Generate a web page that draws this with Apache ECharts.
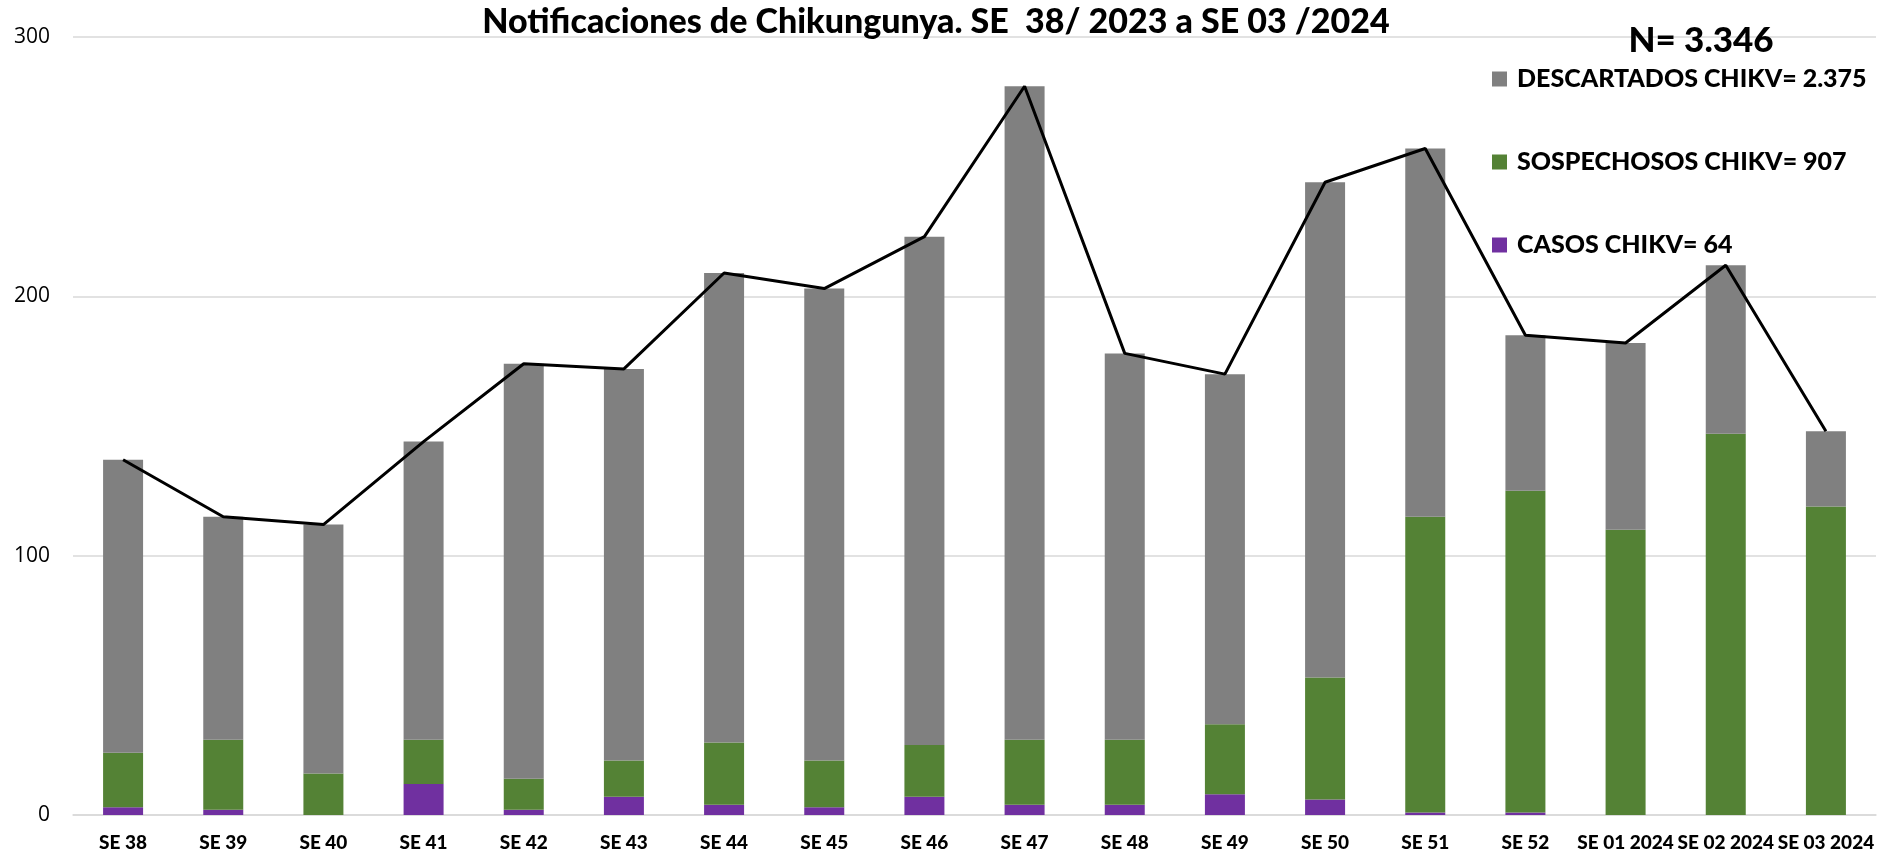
<!DOCTYPE html>
<html>
<head>
<meta charset="utf-8">
<script src="https://cdn.jsdelivr.net/npm/echarts@6/dist/echarts.min.js"></script>
<style>
html,body{margin:0;padding:0;background:#fff;}
#c{width:1900px;height:853px;}
</style>
</head>
<body>
<div id="c"></div>
<script>
const categories = ["SE 38","SE 39","SE 40","SE 41","SE 42","SE 43","SE 44","SE 45","SE 46","SE 47","SE 48","SE 49","SE 50","SE 51","SE 52","SE 01 2024","SE 02 2024","SE 03 2024"];
const casos        = [3, 2, 0, 12, 2, 7, 4, 3, 7, 4, 4, 8, 6, 1, 1, 0, 0, 0];
const sospechosos  = [21, 27, 16, 17, 12, 14, 24, 18, 20, 25, 25, 27, 47, 114, 124, 110, 147, 119];
const descartados  = [113, 86, 96, 115, 160, 151, 181, 182, 196, 252, 149, 135, 191, 142, 60, 72, 65, 29];
const totales      = [137, 115, 112, 144, 174, 172, 209, 203, 223, 281, 178, 170, 244, 257, 185, 182, 212, 148];
const yTicks = [0, 100, 200, 300];

const chart = echarts.init(document.getElementById('c'), null, {renderer: 'canvas'});
const boldFont = 'Lato';
chart.setOption({
  animation: false,
  backgroundColor: '#fff',
  grid: {left: 73, right: 24, top: 37, bottom: 38, containLabel: false},
  graphic: [
    {type: 'text', x: 936, y: 22, z: 10, style: {text: 'Notificaciones de Chikungunya. SE  38/ 2023 a SE 03 /2024', fontFamily: 'Lato', fontWeight: 900, fontSize: 34, fill: '#000', textAlign: 'center', textVerticalAlign: 'middle'}},
    {type: 'text', x: 1701, y: 41, z: 10, style: {text: 'N= 3.346', fontFamily: 'Lato', fontWeight: 900, fontSize: 35, fill: '#000', textAlign: 'center', textVerticalAlign: 'middle'}}
  ],
  legend: {
    orient: 'vertical',
    left: 1492,
    top: 64,
    padding: 0,
    icon: 'rect',
    itemWidth: 15,
    itemHeight: 15,
    itemGap: 53,
    data: ['DESCARTADOS CHIKV= 2.375', 'SOSPECHOSOS CHIKV= 907', 'CASOS CHIKV= 64'],
    textStyle: {fontFamily: boldFont, fontWeight: 900, fontSize: 25, color: '#000', lineHeight: 30, padding: [0,0,0,5]}
  },
  xAxis: {
    type: 'category',
    data: categories,
    axisTick: {show: false},
    axisLine: {lineStyle: {color: '#d9d9d9', width: 1.5}},
    axisLabel: {color: '#000', fontFamily: boldFont, fontWeight: 900, fontSize: 19, margin: 18, interval: 0}
  },
  yAxis: {
    type: 'value',
    min: yTicks[0],
    max: yTicks[yTicks.length - 1],
    interval: 100,
    axisLine: {show: false},
    axisTick: {show: false},
    axisLabel: {color: '#000', fontFamily: 'Open Sans', fontSize: 21, margin: 23},
    splitLine: {lineStyle: {color: '#d9d9d9', width: 1.5}}
  },
  series: [
    {name: 'CASOS CHIKV= 64', type: 'bar', stack: 't', data: casos, barWidth: 40, itemStyle: {color: '#7030A0'}},
    {name: 'SOSPECHOSOS CHIKV= 907', type: 'bar', stack: 't', data: sospechosos, barWidth: 40, itemStyle: {color: '#548235'}},
    {name: 'DESCARTADOS CHIKV= 2.375', type: 'bar', stack: 't', data: descartados, barWidth: 40, itemStyle: {color: '#808080'}},
    {name: 'Total', type: 'line', data: totales, symbol: 'none', lineStyle: {color: '#000', width: 3}, z: 5}
  ]
});
</script>
</body>
</html>
